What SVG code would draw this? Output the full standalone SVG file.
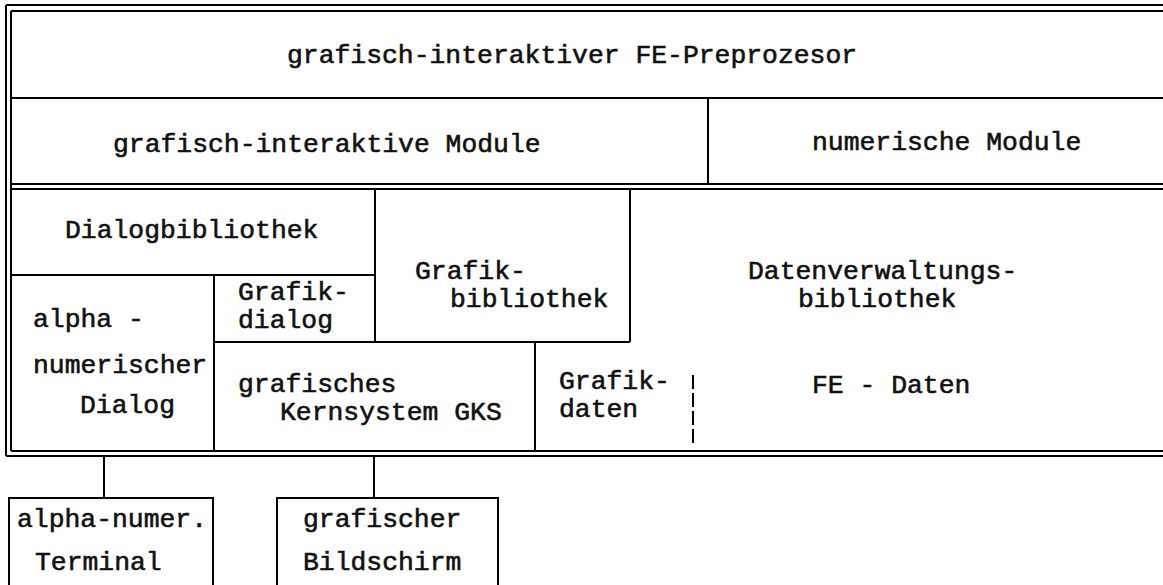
<svg xmlns="http://www.w3.org/2000/svg" width="1163" height="585" viewBox="0 0 1163 585">
<style>
.ln{stroke:#000;stroke-width:2;fill:none}
.ds{stroke:#000;stroke-width:2;fill:none;stroke-dasharray:14 4}
text{font-family:"Liberation Mono","Courier New",monospace;font-size:26.4px;fill:#111;stroke:#111;stroke-width:0.6}
</style>
<rect width="1163" height="585" fill="#fff"/>
<g id="frame">
<line class="ln" x1="6" y1="5" x2="1163" y2="5"/>
<line class="ln" x1="11" y1="11" x2="1163" y2="11"/>
<line class="ln" x1="6" y1="5" x2="6" y2="456"/>
<line class="ln" x1="11" y1="11" x2="11" y2="451"/>
<line class="ln" x1="11" y1="98" x2="1163" y2="98"/>
<line class="ln" x1="11" y1="184" x2="1163" y2="184"/>
<line class="ln" x1="11" y1="189" x2="1163" y2="189"/>
<line class="ln" x1="11" y1="451" x2="1163" y2="451"/>
<line class="ln" x1="6" y1="456" x2="1163" y2="456"/>
</g>
<g id="n-preprozessor">
<text x="287" y="63">grafisch-interaktiver FE-Preprozesor</text>
</g>
<g id="n-gi-module">
<text x="113" y="152">grafisch-interaktive Module</text>
</g>
<g id="n-num-module">
<line class="ln" x1="708" y1="98" x2="708" y2="184"/>
<text x="812" y="150">numerische Module</text>
</g>
<g id="n-dialogbib">
<line class="ln" x1="11" y1="275" x2="375" y2="275"/>
<text x="65" y="238">Dialogbibliothek</text>
</g>
<g id="n-alpha-dialog">
<line class="ln" x1="214" y1="275" x2="214" y2="451"/>
<text x="33" y="327">alpha -</text>
<text x="33" y="373">numerischer</text>
<text x="80" y="413">Dialog</text>
</g>
<g id="n-grafikdialog">
<line class="ln" x1="214" y1="342" x2="375" y2="342"/>
<text x="238" y="300">Grafik-</text>
<text x="238" y="328">dialog</text>
</g>
<g id="n-grafikbib">
<line class="ln" x1="375" y1="189" x2="375" y2="342"/>
<line class="ln" x1="375" y1="342" x2="630" y2="342"/>
<line class="ln" x1="630" y1="189" x2="630" y2="342"/>
<text x="415" y="279">Grafik-</text>
<text x="450" y="307">bibliothek</text>
</g>
<g id="n-gks">
<line class="ln" x1="535" y1="342" x2="535" y2="451"/>
<text x="238" y="392">grafisches</text>
<text x="280" y="420">Kernsystem GKS</text>
</g>
<g id="n-grafikdaten">
<line class="ds" x1="693" y1="375" x2="693" y2="443"/>
<text x="559" y="389">Grafik-</text>
<text x="559" y="417">daten</text>
</g>
<g id="n-datenbib">
<text x="748" y="279">Datenverwaltungs-</text>
<text x="798" y="307">bibliothek</text>
</g>
<g id="n-fedaten">
<text x="812" y="393">FE - Daten</text>
</g>
<g id="connectors">
<line class="ln" x1="104" y1="456" x2="104" y2="498"/>
<line class="ln" x1="374" y1="456" x2="374" y2="498"/>
</g>
<g id="n-terminal">
<polyline class="ln" points="9,586 9,498 213,498 213,586"/>
<text x="17" y="527">alpha-numer.</text>
<text x="35" y="570">Terminal</text>
</g>
<g id="n-bildschirm">
<polyline class="ln" points="277,586 277,498 498,498 498,586"/>
<text x="303" y="527">grafischer</text>
<text x="303" y="570">Bildschirm</text>
</g>
</svg>
